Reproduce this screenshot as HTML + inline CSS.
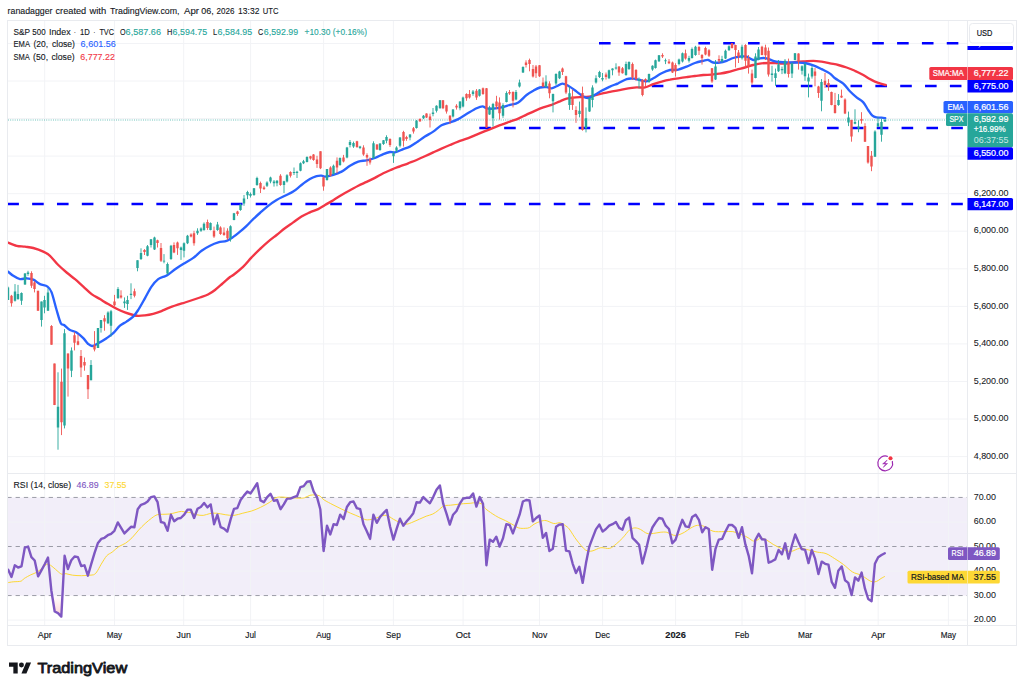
<!DOCTYPE html><html><head><meta charset="utf-8"><title>S&amp;P 500 Index chart</title><style>html,body{margin:0;padding:0;background:#fff;width:1024px;height:691px;overflow:hidden;font-family:"Liberation Sans",sans-serif}</style></head><body><svg width="1024" height="691" viewBox="0 0 1024 691" style="display:block">
<rect width="1024" height="691" fill="#fff"/>
<defs><clipPath id="cm"><rect x="8" y="21" width="959" height="452"/></clipPath><clipPath id="cr"><rect x="8" y="474" width="959" height="151"/></clipPath><clipPath id="c70"><rect x="8" y="474" width="959" height="23.45"/></clipPath><clipPath id="c30"><rect x="8" y="595.55" width="959" height="40"/></clipPath><linearGradient id="gg" gradientUnits="userSpaceOnUse" x1="0" y1="423.9" x2="0" y2="497.4"><stop offset="0" stop-color="#4caf50" stop-opacity="0.9"/><stop offset="1" stop-color="#4caf50" stop-opacity="0"/></linearGradient><linearGradient id="gr" gradientUnits="userSpaceOnUse" x1="0" y1="595.5" x2="0" y2="669.1"><stop offset="0" stop-color="#ff5252" stop-opacity="0"/><stop offset="1" stop-color="#ff5252" stop-opacity="0.9"/></linearGradient></defs>
<text x="7.6" y="14" font-family="Liberation Sans, sans-serif" font-size="9.7" fill="#131722" stroke="#131722" stroke-width="0.12" textLength="44.9" lengthAdjust="spacingAndGlyphs">ranadagger</text>
<text x="55.5" y="14" font-family="Liberation Sans, sans-serif" font-size="9.7" fill="#131722" stroke="#131722" stroke-width="0.12" textLength="30.7" lengthAdjust="spacingAndGlyphs">created</text>
<text x="89.5" y="14" font-family="Liberation Sans, sans-serif" font-size="9.7" fill="#131722" stroke="#131722" stroke-width="0.12" textLength="16.7" lengthAdjust="spacingAndGlyphs">with</text>
<text x="110" y="14" font-family="Liberation Sans, sans-serif" font-size="9.7" fill="#131722" stroke="#131722" stroke-width="0.12" textLength="69.5" lengthAdjust="spacingAndGlyphs">TradingView.com,</text>
<text x="184" y="14" font-family="Liberation Sans, sans-serif" font-size="9.7" fill="#131722" stroke="#131722" stroke-width="0.12" textLength="15.0" lengthAdjust="spacingAndGlyphs">Apr</text>
<text x="201.3" y="14" font-family="Liberation Sans, sans-serif" font-size="9.7" fill="#131722" stroke="#131722" stroke-width="0.12" textLength="12.5" lengthAdjust="spacingAndGlyphs">06,</text>
<text x="216.5" y="14" font-family="Liberation Sans, sans-serif" font-size="9.7" fill="#131722" stroke="#131722" stroke-width="0.12" textLength="17.9" lengthAdjust="spacingAndGlyphs">2026</text>
<text x="238.1" y="14" font-family="Liberation Sans, sans-serif" font-size="9.7" fill="#131722" stroke="#131722" stroke-width="0.12" textLength="21.3" lengthAdjust="spacingAndGlyphs">13:32</text>
<text x="262.8" y="14" font-family="Liberation Sans, sans-serif" font-size="9.7" fill="#131722" stroke="#131722" stroke-width="0.12" textLength="15.7" lengthAdjust="spacingAndGlyphs">UTC</text>
<rect x="8" y="497.45" width="959.5" height="98.10" fill="#7e57c2" fill-opacity="0.1"/>
<path d="M44.7 21V625 M114.5 21V625 M183.7 21V625 M250.6 21V625 M323.6 21V625 M393.4 21V625 M463.1 21V625 M539.5 21V625 M602.6 21V625 M675.6 21V625 M742.0 21V625 M805.1 21V625 M878.2 21V625 M948.4 21V625 M8 456.6H967 M8 419.0H967 M8 381.5H967 M8 343.9H967 M8 306.4H967 M8 268.8H967 M8 231.2H967 M8 193.7H967 M8 156.1H967 M8 118.6H967 M8 81.0H967 M8 43.5H967 M8 620.1H967 M8 571.0H967 M8 522.0H967" stroke="#f2f3f6" stroke-width="1" fill="none"/>
<rect x="7.5" y="20.5" width="1009.0" height="625.0" fill="none" stroke="#e9ebef" stroke-width="1"/>
<path d="M7.5 473.5H1016.5 M7.5 625.5H1016.5 M967.5 20.5V645.5" stroke="#e9ebef" stroke-width="1" fill="none"/>
<path d="M7.33 497.45H967" stroke="#787b86" stroke-opacity="0.72" stroke-width="1" stroke-dasharray="4.3 3.97" clip-path="url(#cr)"/>
<path d="M7.33 546.50H967" stroke="#787b86" stroke-opacity="0.72" stroke-width="1" stroke-dasharray="4.3 3.97" clip-path="url(#cr)"/>
<path d="M7.33 595.55H967" stroke="#787b86" stroke-opacity="0.72" stroke-width="1" stroke-dasharray="4.3 3.97" clip-path="url(#cr)"/>
<g clip-path="url(#cm)">
<path d="M599.0 43.2H967" stroke="#0000ff" stroke-width="2.5" stroke-dasharray="11.6 13.24" fill="none"/>
<path d="M651.8 86H967" stroke="#0000ff" stroke-width="2.5" stroke-dasharray="11.6 13.24" fill="none"/>
<path d="M479.3 128H967" stroke="#0000ff" stroke-width="2.5" stroke-dasharray="11.6 13.24" fill="none"/>
<path d="M7.3 204H967" stroke="#0000ff" stroke-width="2.5" stroke-dasharray="11.6 13.24" fill="none"/>
<path d="M8 120H967" stroke="#26a69a" stroke-width="1" stroke-dasharray="0.9 1.35" opacity="0.75"/>
<path d="M7.5 242.3C7.6 242.3 6.5 241.9 8.0 242.5C9.5 243.1 13.9 245.1 16.7 245.8C19.5 246.5 22.2 246.3 25.0 246.7C27.8 247.1 30.2 247.2 33.3 248.0C36.3 248.8 40.5 250.3 43.3 251.6C46.1 252.9 47.5 253.6 50.0 255.8C52.5 258.0 55.5 262.2 58.3 265.0C61.1 267.8 63.8 270.1 66.6 272.5C69.4 274.9 72.2 276.8 75.0 279.1C77.8 281.5 80.5 284.1 83.3 286.6C86.1 289.1 88.8 292.0 91.6 294.1C94.4 296.2 97.2 297.4 100.0 299.1C102.8 300.8 105.4 302.5 108.2 304.1C111.0 305.7 113.8 307.4 116.6 308.8C119.4 310.2 122.1 311.4 124.9 312.4C127.7 313.4 131.0 314.4 133.2 315.0C135.4 315.6 136.2 315.8 138.2 315.8C140.1 315.9 142.4 315.6 144.9 315.3C147.4 315.0 150.4 314.5 153.2 313.8C156.0 313.1 158.7 312.2 161.5 311.1C164.3 310.0 166.1 308.8 170.0 307.4C173.9 306.0 180.0 304.1 185.0 302.5C190.0 300.9 196.2 298.8 200.0 297.5C203.8 296.2 205.5 295.8 208.0 294.5C210.5 293.2 212.7 291.8 215.0 290.0C217.3 288.2 219.5 286.2 222.0 284.0C224.5 281.8 228.1 278.5 230.0 277.0C231.9 275.5 231.1 276.7 233.3 275.0C235.5 273.3 240.2 269.5 243.3 266.6C246.4 263.7 248.8 260.3 251.6 257.4C254.4 254.5 257.1 251.7 259.9 249.1C262.7 246.5 265.4 243.9 268.2 241.6C271.0 239.2 273.8 237.2 276.6 235.0C279.4 232.8 282.1 230.4 284.9 228.3C287.7 226.2 290.4 224.4 293.2 222.4C296.0 220.4 298.7 218.3 301.5 216.6C304.3 214.9 307.1 213.7 309.9 212.4C312.7 211.2 315.7 210.3 318.2 209.1C320.7 207.9 322.5 206.5 325.0 205.0C327.5 203.5 330.5 201.9 333.3 200.2C336.1 198.5 338.8 196.6 341.6 194.9C344.4 193.2 347.2 191.7 350.0 190.2C352.8 188.7 355.5 187.1 358.3 185.7C361.1 184.3 363.8 183.2 366.6 181.9C369.4 180.6 372.1 179.3 374.9 177.9C377.7 176.5 380.5 174.7 383.3 173.3C386.1 171.9 388.8 170.8 391.6 169.6C394.4 168.4 397.1 167.4 399.9 166.3C402.7 165.2 405.4 164.4 408.2 163.3C411.0 162.2 413.8 161.2 416.6 160.0C419.4 158.8 422.1 157.6 424.9 156.3C427.7 155.0 430.4 153.7 433.2 152.4C436.0 151.1 438.7 149.8 441.5 148.6C444.3 147.4 447.1 146.2 449.9 145.0C452.7 143.8 455.1 142.7 458.2 141.6C461.3 140.5 465.2 139.4 468.3 138.2C471.4 137.0 473.8 135.8 476.6 134.6C479.4 133.4 482.2 132.3 485.0 131.2C487.8 130.1 490.5 129.0 493.3 127.9C496.1 126.8 498.8 125.6 501.6 124.6C504.4 123.5 507.2 122.6 510.0 121.6C512.8 120.6 515.5 119.8 518.3 118.6C521.1 117.4 523.8 115.9 526.6 114.6C529.4 113.3 532.1 112.0 534.9 110.8C537.7 109.6 540.5 108.4 543.3 107.4C546.1 106.4 548.8 105.9 551.6 104.9C554.4 103.9 557.4 102.3 559.9 101.3C562.4 100.2 564.4 99.2 566.6 98.6C568.8 98.0 571.0 97.8 573.2 97.6C575.4 97.3 577.7 97.2 579.9 97.1C582.1 97.0 584.3 97.1 586.5 96.9C588.7 96.7 590.7 96.3 593.2 95.8C595.7 95.2 598.7 94.2 601.5 93.6C604.3 92.9 607.1 92.5 609.9 91.9C612.7 91.4 615.1 90.9 618.2 90.3C621.3 89.7 625.2 88.8 628.3 88.3C631.4 87.8 633.8 87.6 636.6 87.4C639.4 87.2 642.2 88.0 645.0 87.4C647.8 86.9 650.5 85.1 653.3 84.1C656.1 83.1 658.8 82.3 661.6 81.6C664.4 80.8 667.2 80.1 670.0 79.6C672.8 79.0 675.5 78.7 678.3 78.3C681.1 77.9 683.8 77.5 686.6 77.1C689.4 76.7 692.1 76.3 694.9 76.0C697.7 75.7 700.5 75.2 703.3 75.0C706.1 74.8 708.8 74.8 711.6 74.6C714.4 74.4 717.1 74.0 719.9 73.6C722.7 73.2 725.4 72.7 728.2 72.0C731.0 71.3 733.8 70.3 736.6 69.6C739.4 68.8 742.1 68.3 744.9 67.5C747.7 66.7 750.4 65.7 753.2 65.0C756.0 64.3 758.7 63.6 761.5 63.3C764.3 63.0 767.1 63.0 769.9 63.0C772.7 63.0 775.4 63.2 778.2 63.3C781.0 63.4 783.4 63.8 786.5 63.6C789.6 63.4 793.5 62.4 796.6 62.0C799.7 61.6 802.2 61.5 805.0 61.3C807.8 61.1 810.5 60.8 813.3 60.8C816.1 60.8 818.8 61.2 821.6 61.6C824.4 62.0 827.2 62.7 830.0 63.3C832.8 63.9 835.5 64.3 838.3 65.0C841.1 65.7 843.8 66.5 846.6 67.5C849.4 68.5 852.1 69.5 854.9 70.8C857.7 72.0 860.8 73.6 863.3 75.0C865.8 76.4 868.0 78.0 869.9 79.1C871.8 80.2 873.2 80.9 874.9 81.6C876.6 82.3 878.1 82.7 879.9 83.3C881.7 83.9 884.7 84.7 885.7 85.0" stroke="#f23645" stroke-width="2.35" fill="none" stroke-linejoin="round" stroke-linecap="round"/>
<path d="M7.5 271.3C7.6 271.4 7.0 270.9 8.0 271.6C9.0 272.4 11.3 274.6 13.3 275.8C15.3 277.1 17.8 278.7 20.0 279.1C22.2 279.5 24.4 278.2 26.6 278.3C28.8 278.4 31.1 278.6 33.3 279.6C35.5 280.6 37.6 282.9 40.0 284.1C42.4 285.3 45.6 285.2 47.5 286.6C49.4 288.0 50.1 288.5 51.6 292.4C53.1 296.3 55.1 304.9 56.6 310.0C58.1 315.1 59.5 320.7 60.8 323.2C62.0 325.7 62.6 323.9 64.1 325.0C65.6 326.1 67.9 328.8 70.0 330.0C72.1 331.2 74.4 331.0 76.6 332.4C78.8 333.8 81.4 336.3 83.3 338.2C85.2 340.1 86.7 342.7 88.2 344.0C89.7 345.3 90.5 346.1 92.2 346.0C93.9 345.9 95.8 344.5 98.2 343.2C100.6 341.9 104.1 339.9 106.6 338.2C109.1 336.5 111.0 335.3 113.2 333.2C115.4 331.1 117.8 327.6 120.0 325.7C122.2 323.8 124.3 323.1 126.5 321.6C128.7 320.1 131.2 318.5 133.2 316.6C135.1 314.7 136.2 313.1 138.2 310.0C140.1 306.9 142.7 302.2 144.9 298.3C147.1 294.4 149.3 289.8 151.5 286.6C153.7 283.4 156.0 280.8 158.2 279.1C160.4 277.4 163.2 277.0 164.8 276.3C166.4 275.6 165.5 276.4 167.5 275.0C169.5 273.6 173.7 270.2 176.6 268.2C179.5 266.2 182.2 264.6 185.0 262.9C187.8 261.2 190.5 259.9 193.3 257.9C196.1 255.9 198.8 252.7 201.6 250.7C204.4 248.7 207.2 247.1 210.0 245.7C212.8 244.3 215.5 243.2 218.3 242.4C221.1 241.6 224.1 241.7 226.6 240.8C229.1 239.9 231.1 238.4 233.3 236.9C235.5 235.4 237.8 233.4 240.0 231.6C242.2 229.8 244.4 227.9 246.6 225.8C248.8 223.7 251.0 221.2 253.2 219.1C255.4 217.0 257.4 215.2 259.9 213.0C262.4 210.8 265.4 208.0 268.2 205.8C271.0 203.6 273.8 201.7 276.6 200.0C279.4 198.3 282.1 197.2 284.9 195.8C287.7 194.4 290.4 193.4 293.2 191.6C296.0 189.8 298.7 187.1 301.5 185.0C304.3 182.9 307.4 180.6 309.9 179.1C312.4 177.6 314.7 176.8 316.6 176.2C318.6 175.6 320.2 175.6 321.6 175.7C323.0 175.8 323.1 176.7 325.0 176.6C326.9 176.5 330.5 175.7 333.3 174.9C336.1 174.1 338.8 173.1 341.6 171.6C344.4 170.1 347.2 167.5 350.0 165.8C352.8 164.1 355.5 162.5 358.3 161.6C361.1 160.7 363.8 160.9 366.6 160.3C369.4 159.7 372.1 159.0 374.9 158.0C377.7 157.0 380.8 155.1 383.3 154.1C385.8 153.1 388.0 152.3 389.9 152.0C391.8 151.7 392.7 152.9 394.9 152.4C397.1 151.9 400.7 150.1 403.2 149.1C405.7 148.1 407.7 147.7 409.9 146.6C412.1 145.5 414.1 144.1 416.6 142.4C419.1 140.7 422.1 138.4 424.9 136.6C427.7 134.8 430.4 133.5 433.2 131.6C436.0 129.7 438.7 126.8 441.5 125.3C444.3 123.8 447.1 123.5 449.9 122.5C452.7 121.5 455.4 120.5 458.2 119.1C461.0 117.7 463.4 115.9 466.5 114.1C469.6 112.3 473.9 109.6 476.6 108.3C479.3 107.0 480.8 106.3 482.5 106.3C484.2 106.3 484.8 107.9 486.6 108.3C488.4 108.7 490.8 108.8 493.3 108.6C495.8 108.4 498.8 108.0 501.6 107.4C504.4 106.8 507.2 105.7 510.0 104.9C512.8 104.1 515.5 104.1 518.3 102.4C521.1 100.8 524.1 96.9 526.6 95.0C529.1 93.1 531.1 92.0 533.3 90.8C535.5 89.5 537.7 88.1 539.9 87.5C542.1 86.9 544.6 87.0 546.6 87.1C548.6 87.2 549.9 88.4 551.6 88.3C553.3 88.2 554.8 87.1 556.6 86.3C558.4 85.5 560.5 83.7 562.4 83.6C564.3 83.5 565.8 84.5 568.2 85.8C570.6 87.1 574.1 89.8 576.6 91.6C579.1 93.4 581.3 95.5 583.2 96.6C585.1 97.7 586.5 98.1 588.2 98.0C589.9 97.9 591.0 97.0 593.2 95.8C595.4 94.6 598.7 92.3 601.5 90.8C604.3 89.3 607.1 87.8 609.9 86.6C612.7 85.3 615.4 84.5 618.2 83.3C621.0 82.0 624.2 79.9 626.7 79.1C629.2 78.3 631.1 78.4 633.3 78.6C635.5 78.8 637.8 79.5 640.0 80.0C642.2 80.5 644.4 81.6 646.6 81.3C648.8 81.0 650.8 79.6 653.3 78.3C655.8 77.0 658.8 74.7 661.6 73.3C664.4 71.9 667.2 70.6 670.0 70.0C672.8 69.4 675.5 70.2 678.3 69.6C681.1 69.0 683.8 67.7 686.6 66.6C689.4 65.5 692.1 64.0 694.9 63.0C697.7 62.0 701.1 61.3 703.3 60.8C705.5 60.3 706.6 59.7 708.2 60.0C709.9 60.3 711.2 62.1 713.2 62.5C715.2 62.9 717.7 62.8 719.9 62.5C722.1 62.2 724.4 61.5 726.6 60.8C728.8 60.0 731.0 58.7 733.2 58.0C735.4 57.3 737.7 56.8 739.9 56.6C742.1 56.4 744.3 56.0 746.5 56.6C748.7 57.2 751.0 59.7 753.2 60.0C755.4 60.3 757.7 58.6 759.9 58.3C762.1 58.0 764.3 57.9 766.5 58.3C768.7 58.7 771.0 60.2 773.2 60.8C775.4 61.4 777.3 61.7 779.8 62.0C782.3 62.3 785.5 62.4 788.3 62.5C791.1 62.6 793.8 62.4 796.6 62.5C799.4 62.6 802.2 62.5 805.0 63.0C807.8 63.5 810.5 64.3 813.3 65.3C816.1 66.3 818.8 67.7 821.6 69.1C824.4 70.5 827.8 72.1 830.0 73.6C832.2 75.1 832.8 76.6 835.0 78.3C837.2 80.0 840.8 81.4 843.3 83.6C845.8 85.8 847.7 89.0 849.9 91.3C852.1 93.6 854.4 95.6 856.6 97.4C858.8 99.2 861.4 100.3 863.3 102.4C865.2 104.5 866.7 107.8 868.2 110.0C869.7 112.2 871.0 114.5 872.4 115.7C873.8 116.9 875.1 117.1 876.6 117.4C878.1 117.7 880.2 117.6 881.6 117.7C883.0 117.8 884.6 118.1 885.2 118.2" stroke="#2962ff" stroke-width="2.35" fill="none" stroke-linejoin="round" stroke-linecap="round"/>
<path d="M8.00 286.6V299.9M15.00 284.1V301.6M18.00 284.9V299.9M21.50 292.4V304.9M25.00 273.0V284.9M28.00 270.8V275.8M41.50 301.6V326.6M44.50 295.8V313.3M48.00 288.3V310.8M58.00 372.3V449.7M64.50 329.1V428.4M71.50 347.4V377.1M91.00 360.1V380.2M98.00 328.1V348.0M101.00 320.0V332.6M108.00 311.3V324.1M111.00 309.9V336.6M118.00 287.1V298.6M124.50 297.4V307.9M127.50 295.8V309.9M131.00 283.3V299.1M137.50 260.3V271.3M141.00 248.3V260.0M147.50 245.0V256.3M151.00 239.2V247.5M154.50 236.7V250.0M164.00 254.1V263.3M167.50 262.5V274.6M171.00 244.9V259.9M181.00 246.6V259.9M184.00 242.4V257.4M187.50 234.9V244.1M197.50 228.3V234.9M201.00 227.4V231.9M204.00 222.4V230.8M210.50 222.4V230.3M217.50 221.9V230.8M230.50 225.3V241.6M234.00 212.9V220.3M240.50 203.6V210.8M244.00 195.0V205.8M247.50 190.8V199.1M250.50 192.5V197.5M254.00 188.0V195.8M257.00 176.7V185.8M267.00 181.3V187.0M270.50 176.7V183.3M274.00 180.0V186.6M277.00 180.0V186.3M284.00 180.8V193.0M287.00 174.2V182.5M294.00 167.5V175.0M297.00 170.8V178.0M300.50 162.4V171.3M303.50 159.9V164.1M307.00 156.3V162.4M327.00 169.1V180.7M333.50 164.6V174.9M340.00 157.4V165.8M347.00 146.9V158.3M350.00 140.0V147.4M353.50 141.6V147.9M360.00 145.8V149.1M373.50 141.3V158.6M380.00 143.3V150.8M383.50 140.0V144.9M386.50 135.3V143.3M393.50 151.6V162.9M396.50 146.3V152.4M400.00 137.0V147.4M410.00 134.1V140.3M416.50 120.0V128.6M423.50 115.0V119.1M433.00 108.0V116.3M436.50 105.3V112.5M440.00 100.0V108.6M453.00 109.1V117.5M460.00 101.3V110.3M463.00 96.6V107.4M473.00 90.0V95.8M479.50 89.1V96.6M489.50 105.8V114.9M493.00 102.9V126.6M503.00 103.3V117.9M506.50 91.3V102.4M516.00 90.0V100.3M519.50 79.6V87.5M523.00 66.3V73.0M546.00 75.3V87.5M553.00 93.6V112.4M556.00 73.3V85.0M559.50 70.8V79.1M569.50 86.6V109.9M579.50 101.6V117.4M586.00 107.4V132.4M589.50 97.4V111.9M592.50 85.3V107.4M596.00 75.3V83.6M599.50 70.8V78.0M602.50 73.0V81.3M609.00 69.6V79.1M612.50 68.3V75.3M616.00 63.3V69.6M626.00 61.6V75.8M629.00 61.3V70.0M639.00 77.5V88.3M649.00 73.6V82.9M652.50 65.3V70.8M655.50 59.6V68.6M659.00 55.0V62.0M665.50 58.6V64.1M679.00 58.6V65.3M682.50 52.5V62.5M689.00 55.8V62.5M692.00 47.5V58.6M695.50 45.8V55.8M715.50 60.0V80.0M722.00 55.8V62.5M725.50 49.6V59.1M729.00 45.3V50.8M742.00 44.7V59.6M755.50 53.3V78.3M758.50 47.0V60.3M772.00 65.8V81.6M775.50 68.6V85.8M778.50 60.0V72.0M782.00 66.6V74.1M785.00 59.1V74.1M792.00 62.5V78.0M795.00 53.0V60.3M802.00 65.3V74.6M805.00 62.5V80.8M808.50 73.6V97.4M812.00 65.8V78.6M821.50 79.1V111.3M838.50 94.1V105.8M848.50 111.6V126.1M855.00 109.3V124.3M858.50 120.3V132.2M875.00 130.3V156.7M878.00 116.8V127.2M881.50 118.5V141.7M885.00 119.5V121.8" stroke="#26a69a" stroke-width="0.9" fill="none"/>
<path d="M11.50 294.9V306.6M31.50 271.3V287.9M34.50 281.3V292.4M38.00 290.8V310.8M51.50 325.1V344.7M54.50 363.6V405.1M61.50 368.6V435.1M68.00 353.4V396.6M74.50 332.2V350.4M78.00 334.6V345.3M81.00 350.0V377.1M84.50 357.5V370.7M88.00 375.1V399.0M94.50 331.1V351.4M104.50 315.2V330.7M114.50 294.9V306.6M121.00 290.3V298.6M134.50 288.6V297.4M144.50 249.1V255.0M157.50 239.7V247.5M161.00 243.0V262.0M174.00 242.4V253.2M177.50 241.6V254.9M191.00 233.3V237.4M194.00 230.8V245.7M207.50 219.6V229.9M214.00 226.6V237.9M220.50 226.3V234.9M224.00 227.4V235.8M227.50 228.3V239.9M237.50 210.8V215.8M260.50 181.6V193.0M264.00 185.8V190.0M280.50 174.2V185.8M290.50 171.3V177.5M310.50 155.8V159.6M313.50 154.1V160.8M317.00 155.8V167.9M320.50 151.3V169.1M323.50 176.6V190.7M330.50 166.3V176.6M337.00 157.4V173.3M343.50 154.9V162.4M357.00 140.8V147.9M363.50 145.3V155.8M367.00 153.3V165.8M370.00 157.4V164.6M377.00 144.1V149.9M390.00 138.3V146.9M403.50 130.8V146.6M406.50 135.8V140.8M413.50 127.0V133.6M420.00 118.3V122.0M426.50 113.3V118.0M430.00 113.6V127.5M443.00 100.0V109.1M446.50 104.7V113.6M450.00 115.0V124.1M456.50 104.2V109.6M466.50 93.3V100.8M469.50 90.0V98.6M476.50 89.1V99.9M483.00 87.5V94.9M486.50 88.0V127.9M496.50 95.8V109.1M499.50 97.4V119.6M509.50 90.0V94.9M513.00 91.3V107.4M526.00 60.3V67.5M529.50 58.6V71.3M533.00 65.0V77.5M536.00 65.0V78.0M539.50 65.0V77.0M543.00 77.5V87.0M549.50 81.3V98.3M562.50 67.5V75.0M566.00 75.8V94.1M572.50 89.6V109.9M576.00 106.3V122.9M582.50 86.6V130.7M606.00 72.5V79.6M619.00 66.3V75.8M622.50 67.0V73.6M632.50 62.5V80.0M636.00 69.1V80.8M642.50 79.1V96.3M645.50 78.3V86.6M662.50 53.3V58.0M669.00 59.1V64.1M672.50 61.6V73.0M675.50 63.3V76.6M685.50 49.6V59.6M699.00 45.8V55.0M702.00 54.1V64.6M705.50 46.7V55.3M709.00 49.1V57.0M712.00 68.0V82.9M719.00 55.3V63.0M732.00 43.0V48.6M735.50 44.7V67.5M738.50 50.0V63.0M745.50 44.2V67.5M748.50 55.0V73.6M752.00 69.6V84.6M762.00 45.8V55.3M765.50 44.7V60.0M768.50 47.5V76.6M788.50 58.6V77.5M798.50 53.3V69.6M815.00 68.0V86.3M818.50 85.8V97.9M825.00 73.0V87.9M828.50 79.1V90.8M831.50 91.6V105.3M835.00 92.9V113.6M841.50 89.6V97.9M845.00 98.3V114.1M851.50 119.7V141.7M861.50 112.2V123.7M865.00 123.2V141.9M868.00 146.1V163.7M871.50 151.0V171.2" stroke="#ef5350" stroke-width="0.9" fill="none"/>
<path d="M6.80 287.4h2.4V299.9h-2.4zM13.80 291.6h2.4V300.8h-2.4zM16.80 294.1h2.4V299.1h-2.4zM20.30 292.9h2.4V300.8h-2.4zM23.80 273.6h2.4V284.6h-2.4zM26.80 272.5h2.4V274.1h-2.4zM40.30 301.6h2.4V319.9h-2.4zM43.30 299.9h2.4V307.4h-2.4zM46.80 292.4h2.4V310.8h-2.4zM56.80 406.7h2.4V427.4h-2.4zM63.30 333.2h2.4V425.4h-2.4zM70.30 350.4h2.4V370.7h-2.4zM89.80 365.0h2.4V380.2h-2.4zM96.80 328.1h2.4V348.0h-2.4zM99.80 320.0h2.4V328.1h-2.4zM106.80 312.4h2.4V323.2h-2.4zM109.80 311.3h2.4V325.7h-2.4zM116.80 289.1h2.4V298.3h-2.4zM123.30 301.6h2.4V303.3h-2.4zM126.30 299.9h2.4V304.1h-2.4zM129.80 293.8h2.4V294.9h-2.4zM136.30 260.3h2.4V268.0h-2.4zM139.80 253.0h2.4V259.1h-2.4zM146.30 246.3h2.4V255.8h-2.4zM149.80 239.2h2.4V245.0h-2.4zM153.30 237.5h2.4V249.6h-2.4zM162.80 260.8h2.4V261.6h-2.4zM166.30 264.1h2.4V273.6h-2.4zM169.80 245.7h2.4V259.1h-2.4zM179.80 247.4h2.4V249.9h-2.4zM182.80 243.3h2.4V250.7h-2.4zM186.30 235.8h2.4V243.3h-2.4zM196.30 230.8h2.4V233.3h-2.4zM199.80 228.6h2.4V230.8h-2.4zM202.80 223.8h2.4V229.9h-2.4zM209.30 222.9h2.4V229.9h-2.4zM216.30 224.6h2.4V229.9h-2.4zM229.30 226.3h2.4V238.3h-2.4zM232.80 213.3h2.4V219.9h-2.4zM239.30 204.6h2.4V210.0h-2.4zM242.80 198.6h2.4V203.6h-2.4zM246.30 192.0h2.4V195.3h-2.4zM249.30 194.1h2.4V195.8h-2.4zM252.80 188.3h2.4V195.0h-2.4zM255.80 178.0h2.4V185.0h-2.4zM265.80 182.5h2.4V185.8h-2.4zM269.30 177.5h2.4V181.6h-2.4zM272.80 181.6h2.4V183.3h-2.4zM275.80 180.8h2.4V183.3h-2.4zM282.80 181.3h2.4V185.0h-2.4zM285.80 175.3h2.4V181.6h-2.4zM292.80 172.0h2.4V173.0h-2.4zM295.80 171.7h2.4V173.0h-2.4zM299.30 163.3h2.4V170.8h-2.4zM302.30 161.3h2.4V163.3h-2.4zM305.80 156.9h2.4V161.9h-2.4zM325.80 169.1h2.4V179.9h-2.4zM332.30 165.8h2.4V174.1h-2.4zM338.80 157.9h2.4V164.9h-2.4zM345.80 147.4h2.4V157.4h-2.4zM348.80 141.9h2.4V144.9h-2.4zM352.30 142.9h2.4V146.6h-2.4zM358.80 146.6h2.4V147.9h-2.4zM372.30 143.3h2.4V158.3h-2.4zM378.80 143.6h2.4V149.9h-2.4zM382.30 140.3h2.4V144.1h-2.4zM385.30 137.0h2.4V140.8h-2.4zM392.30 153.3h2.4V156.3h-2.4zM395.30 147.4h2.4V150.8h-2.4zM398.80 137.5h2.4V145.8h-2.4zM408.80 134.6h2.4V137.5h-2.4zM415.30 120.8h2.4V128.0h-2.4zM422.30 115.8h2.4V118.3h-2.4zM431.80 112.5h2.4V114.1h-2.4zM435.30 105.8h2.4V110.8h-2.4zM438.80 100.3h2.4V108.3h-2.4zM451.80 109.6h2.4V116.6h-2.4zM458.80 101.6h2.4V108.3h-2.4zM461.80 97.4h2.4V106.6h-2.4zM471.80 91.6h2.4V94.1h-2.4zM478.30 89.6h2.4V95.8h-2.4zM488.30 107.4h2.4V114.6h-2.4zM491.80 104.1h2.4V118.3h-2.4zM501.80 104.9h2.4V115.8h-2.4zM505.30 92.9h2.4V101.9h-2.4zM514.80 91.9h2.4V99.6h-2.4zM518.30 82.5h2.4V86.6h-2.4zM521.80 67.0h2.4V72.5h-2.4zM544.80 81.6h2.4V87.0h-2.4zM551.80 94.1h2.4V101.3h-2.4zM554.80 74.1h2.4V83.6h-2.4zM558.30 71.6h2.4V78.3h-2.4zM568.30 93.3h2.4V104.9h-2.4zM578.30 110.8h2.4V114.1h-2.4zM584.80 118.3h2.4V128.2h-2.4zM588.30 97.9h2.4V111.6h-2.4zM591.30 87.5h2.4V99.9h-2.4zM594.80 78.3h2.4V82.5h-2.4zM598.30 72.0h2.4V77.0h-2.4zM601.30 78.0h2.4V79.6h-2.4zM607.80 70.3h2.4V78.3h-2.4zM611.30 68.6h2.4V70.3h-2.4zM614.80 67.5h2.4V68.6h-2.4zM624.80 64.1h2.4V75.0h-2.4zM627.80 62.0h2.4V69.1h-2.4zM637.80 79.1h2.4V80.8h-2.4zM647.80 74.1h2.4V81.9h-2.4zM651.30 65.8h2.4V69.6h-2.4zM654.30 60.3h2.4V68.0h-2.4zM657.80 55.3h2.4V61.3h-2.4zM664.30 60.3h2.4V61.3h-2.4zM677.80 59.6h2.4V64.1h-2.4zM681.30 53.3h2.4V61.6h-2.4zM687.80 58.0h2.4V60.8h-2.4zM690.80 49.1h2.4V58.0h-2.4zM694.30 46.7h2.4V55.0h-2.4zM714.30 66.6h2.4V79.6h-2.4zM720.80 59.1h2.4V61.6h-2.4zM724.30 50.8h2.4V58.6h-2.4zM727.80 46.3h2.4V50.3h-2.4zM740.80 46.7h2.4V58.3h-2.4zM754.30 56.6h2.4V78.0h-2.4zM757.30 49.6h2.4V60.0h-2.4zM770.80 73.6h2.4V75.0h-2.4zM774.30 73.3h2.4V78.0h-2.4zM777.30 64.6h2.4V71.3h-2.4zM780.80 69.1h2.4V70.3h-2.4zM783.80 60.8h2.4V73.3h-2.4zM790.80 63.3h2.4V73.6h-2.4zM793.80 53.3h2.4V60.0h-2.4zM800.80 66.3h2.4V70.8h-2.4zM803.80 64.1h2.4V76.3h-2.4zM807.30 77.5h2.4V81.6h-2.4zM810.80 68.0h2.4V76.6h-2.4zM820.30 81.9h2.4V100.8h-2.4zM837.30 99.9h2.4V104.9h-2.4zM847.30 117.4h2.4V122.6h-2.4zM853.80 122.0h2.4V123.7h-2.4zM857.30 126.4h2.4V128.4h-2.4zM873.80 131.5h2.4V156.7h-2.4zM876.80 123.2h2.4V126.6h-2.4zM880.30 122.0h2.4V134.7h-2.4zM883.80 119.7h2.4V121.4h-2.4z" fill="#26a69a"/>
<path d="M10.30 295.8h2.4V303.3h-2.4zM30.30 273.0h2.4V285.8h-2.4zM33.30 282.4h2.4V289.1h-2.4zM36.80 290.8h2.4V310.8h-2.4zM50.30 326.1h2.4V344.7h-2.4zM53.30 363.6h2.4V405.1h-2.4zM60.30 381.8h2.4V422.3h-2.4zM66.80 353.4h2.4V368.6h-2.4zM73.30 335.2h2.4V342.7h-2.4zM76.80 341.3h2.4V344.7h-2.4zM79.80 356.1h2.4V367.6h-2.4zM83.30 362.1h2.4V365.6h-2.4zM86.80 375.1h2.4V389.3h-2.4zM93.30 345.3h2.4V349.4h-2.4zM103.30 318.2h2.4V321.6h-2.4zM113.30 301.6h2.4V305.3h-2.4zM119.80 295.4h2.4V297.4h-2.4zM133.30 291.3h2.4V295.8h-2.4zM143.30 250.0h2.4V252.0h-2.4zM156.30 240.3h2.4V243.0h-2.4zM159.80 248.0h2.4V260.8h-2.4zM172.80 244.9h2.4V252.4h-2.4zM176.30 242.4h2.4V248.2h-2.4zM189.80 234.6h2.4V236.6h-2.4zM192.80 233.3h2.4V243.3h-2.4zM206.30 221.9h2.4V227.9h-2.4zM212.80 230.8h2.4V236.6h-2.4zM219.30 227.4h2.4V234.1h-2.4zM222.80 232.4h2.4V234.9h-2.4zM226.30 230.8h2.4V238.3h-2.4zM236.30 211.6h2.4V214.1h-2.4zM259.30 183.0h2.4V188.6h-2.4zM262.80 187.5h2.4V189.1h-2.4zM279.30 175.8h2.4V185.0h-2.4zM289.30 172.0h2.4V175.8h-2.4zM309.30 156.3h2.4V158.6h-2.4zM312.30 154.6h2.4V159.9h-2.4zM315.80 159.6h2.4V164.1h-2.4zM319.30 151.3h2.4V168.3h-2.4zM322.30 177.4h2.4V186.6h-2.4zM329.30 167.4h2.4V175.7h-2.4zM335.80 160.8h2.4V167.4h-2.4zM342.30 157.4h2.4V161.6h-2.4zM355.80 141.3h2.4V146.9h-2.4zM362.30 147.4h2.4V154.6h-2.4zM365.80 154.9h2.4V157.4h-2.4zM368.80 159.1h2.4V162.4h-2.4zM375.80 144.6h2.4V149.6h-2.4zM388.80 139.1h2.4V144.9h-2.4zM402.30 132.0h2.4V140.8h-2.4zM405.30 137.0h2.4V139.1h-2.4zM412.30 128.3h2.4V131.6h-2.4zM418.80 119.1h2.4V121.3h-2.4zM425.30 113.6h2.4V117.5h-2.4zM428.80 116.6h2.4V120.0h-2.4zM441.80 100.3h2.4V108.3h-2.4zM445.30 105.3h2.4V111.6h-2.4zM448.80 115.8h2.4V120.8h-2.4zM455.30 105.8h2.4V107.5h-2.4zM465.30 94.1h2.4V98.3h-2.4zM468.30 94.1h2.4V97.4h-2.4zM475.30 90.8h2.4V97.4h-2.4zM481.80 88.3h2.4V94.1h-2.4zM485.30 88.3h2.4V127.4h-2.4zM495.30 101.6h2.4V106.6h-2.4zM498.30 102.4h2.4V113.3h-2.4zM508.30 91.9h2.4V93.6h-2.4zM511.80 91.9h2.4V100.8h-2.4zM524.80 62.5h2.4V65.0h-2.4zM528.30 60.0h2.4V64.1h-2.4zM531.80 69.1h2.4V76.6h-2.4zM534.80 66.6h2.4V73.3h-2.4zM538.30 65.3h2.4V76.3h-2.4zM541.80 82.5h2.4V86.6h-2.4zM548.30 83.6h2.4V93.3h-2.4zM561.30 68.6h2.4V72.0h-2.4zM564.80 76.3h2.4V92.4h-2.4zM571.30 96.6h2.4V104.9h-2.4zM574.80 109.9h2.4V114.9h-2.4zM581.30 92.9h2.4V129.9h-2.4zM604.80 74.6h2.4V77.0h-2.4zM617.80 66.6h2.4V72.5h-2.4zM621.30 68.3h2.4V73.3h-2.4zM631.30 64.1h2.4V77.5h-2.4zM634.80 70.0h2.4V79.1h-2.4zM641.30 80.0h2.4V94.9h-2.4zM644.30 79.1h2.4V80.8h-2.4zM661.30 55.0h2.4V56.6h-2.4zM667.80 61.6h2.4V63.3h-2.4zM671.30 62.5h2.4V72.5h-2.4zM674.30 65.0h2.4V71.6h-2.4zM684.30 53.3h2.4V58.6h-2.4zM697.80 47.0h2.4V50.8h-2.4zM700.80 55.0h2.4V58.3h-2.4zM704.30 48.0h2.4V54.6h-2.4zM707.80 50.3h2.4V55.8h-2.4zM710.80 68.3h2.4V81.6h-2.4zM717.80 59.1h2.4V60.8h-2.4zM730.80 43.3h2.4V48.0h-2.4zM734.30 45.0h2.4V50.0h-2.4zM737.30 52.5h2.4V56.6h-2.4zM744.30 45.0h2.4V60.8h-2.4zM747.30 58.3h2.4V66.3h-2.4zM750.80 73.6h2.4V82.4h-2.4zM760.80 46.7h2.4V55.0h-2.4zM764.30 47.5h2.4V55.3h-2.4zM767.30 50.8h2.4V74.6h-2.4zM787.30 62.5h2.4V74.1h-2.4zM797.30 53.6h2.4V61.6h-2.4zM813.80 71.6h2.4V75.8h-2.4zM817.30 86.6h2.4V92.9h-2.4zM823.80 80.8h2.4V84.9h-2.4zM827.30 82.9h2.4V86.6h-2.4zM830.30 91.9h2.4V104.9h-2.4zM833.80 104.9h2.4V112.9h-2.4zM840.30 95.8h2.4V97.4h-2.4zM843.80 99.6h2.4V113.6h-2.4zM850.30 119.9h2.4V136.5h-2.4zM860.30 119.1h2.4V120.8h-2.4zM863.80 126.1h2.4V141.7h-2.4zM866.80 146.1h2.4V162.5h-2.4zM870.30 155.8h2.4V166.6h-2.4z" fill="#ef5350"/>
</g>
<path d="M8.2 569.7 L11.5 577.0 L14.8 565.3 L18.1 567.5 L21.5 566.4 L24.8 547.7 L28.1 546.6 L31.4 557.2 L34.7 560.5 L38.1 576.3 L41.4 570.4 L44.7 564.2 L48.0 557.6 L51.3 590.2 L54.7 611.5 L58.0 613.1 L61.3 616.6 L64.6 555.8 L67.9 569.0 L71.3 560.2 L74.6 556.5 L77.9 557.2 L81.2 566.0 L84.5 565.3 L87.9 575.7 L91.2 564.2 L94.5 553.2 L97.8 543.3 L101.2 538.9 L104.5 537.8 L107.8 535.2 L111.1 533.8 L114.4 530.8 L117.8 522.4 L121.1 527.9 L124.4 533.4 L127.7 530.1 L131.0 526.8 L134.4 527.2 L137.7 509.2 L141.0 504.8 L144.3 503.7 L147.6 501.5 L151.0 497.1 L154.3 496.4 L157.6 502.2 L160.9 522.0 L164.2 522.8 L167.6 530.8 L170.9 514.7 L174.2 521.3 L177.5 518.7 L180.8 518.0 L184.2 514.7 L187.5 509.6 L190.8 509.6 L194.1 518.0 L197.5 508.8 L200.8 507.0 L204.1 503.0 L207.4 507.4 L210.7 504.4 L214.1 524.2 L217.4 514.7 L220.7 527.2 L224.0 528.6 L227.3 531.6 L230.7 519.1 L234.0 508.8 L237.3 508.1 L240.6 500.0 L243.9 495.6 L247.3 491.6 L250.6 493.4 L253.9 488.3 L257.2 483.2 L260.5 500.4 L263.9 502.2 L267.2 497.1 L270.5 493.8 L273.8 500.8 L277.1 500.0 L280.5 509.2 L283.8 504.4 L287.1 498.6 L290.4 498.6 L293.8 497.1 L297.1 496.0 L300.4 487.2 L303.7 486.1 L307.0 481.7 L310.4 481.3 L313.7 491.6 L317.0 497.1 L320.3 509.2 L323.6 551.0 L327.0 525.7 L330.3 534.5 L333.6 524.2 L336.9 525.0 L340.2 514.7 L343.6 519.1 L346.9 507.0 L350.2 502.2 L353.5 501.5 L356.8 508.1 L360.2 509.2 L363.5 524.2 L366.8 531.2 L370.1 538.9 L373.4 514.7 L376.8 522.8 L380.1 516.9 L383.4 513.2 L386.7 509.9 L390.1 526.8 L393.4 539.6 L396.7 528.6 L400.0 518.7 L403.3 525.7 L406.7 521.3 L410.0 517.6 L413.3 513.2 L416.6 502.2 L419.9 502.6 L423.3 497.1 L426.6 500.4 L429.9 503.3 L433.2 497.1 L436.5 489.8 L439.9 485.4 L443.2 503.7 L446.5 513.6 L449.8 524.6 L453.1 514.7 L456.5 511.0 L459.8 503.7 L463.1 498.6 L466.4 497.8 L469.7 497.8 L473.1 493.4 L476.4 506.6 L479.7 497.1 L483.0 503.7 L486.4 565.3 L489.7 539.6 L493.0 541.8 L496.3 536.7 L499.6 546.6 L503.0 538.2 L506.3 524.2 L509.6 525.0 L512.9 533.4 L516.2 524.2 L519.6 514.7 L522.9 501.5 L526.2 500.0 L529.5 500.4 L532.8 521.3 L536.2 518.0 L539.5 515.4 L542.8 537.8 L546.1 533.0 L549.4 551.0 L552.8 548.8 L556.1 526.8 L559.4 524.6 L562.7 524.2 L566.0 550.6 L569.4 551.4 L572.7 563.8 L576.0 573.0 L579.3 566.8 L582.7 582.9 L586.0 563.1 L589.3 546.6 L592.6 537.8 L595.9 529.4 L599.3 524.6 L602.6 531.6 L605.9 529.0 L609.2 525.7 L612.5 524.2 L615.9 522.0 L619.2 527.9 L622.5 529.7 L625.8 520.2 L629.1 517.6 L632.5 537.8 L635.8 541.1 L639.1 544.8 L642.4 563.5 L645.7 551.0 L649.1 536.7 L652.4 527.5 L655.7 522.4 L659.0 518.0 L662.4 518.7 L665.7 525.7 L669.0 529.0 L672.3 543.3 L675.6 539.6 L679.0 529.0 L682.3 519.8 L685.6 526.4 L688.9 527.2 L692.2 516.9 L695.6 514.7 L698.9 519.8 L702.2 532.3 L705.5 527.2 L708.8 529.0 L712.2 569.7 L715.5 548.8 L718.8 539.6 L722.1 538.9 L725.4 531.6 L728.8 525.0 L732.1 525.0 L735.4 527.9 L738.7 537.8 L742.0 527.2 L745.4 544.4 L748.7 555.8 L752.0 573.4 L755.3 540.0 L758.7 533.8 L762.0 539.3 L765.3 539.6 L768.6 562.7 L771.9 561.3 L775.3 559.4 L778.6 549.9 L781.9 554.3 L785.2 543.3 L788.5 558.7 L791.9 545.5 L795.2 534.5 L798.5 542.2 L801.8 549.2 L805.1 549.9 L808.5 563.1 L811.8 549.9 L815.1 558.7 L818.4 574.1 L821.7 561.6 L825.1 563.8 L828.4 564.6 L831.7 581.8 L835.0 587.8 L838.3 570.8 L841.7 566.4 L845.0 580.3 L848.3 582.9 L851.6 595.0 L855.0 577.4 L858.3 580.7 L861.6 572.6 L864.9 588.4 L868.2 599.0 L871.6 601.2 L874.9 563.8 L878.2 557.2 L881.5 555.0 L884.8 553.2 L884.8 497.4 L8.2 497.4Z" fill="url(#gg)" clip-path="url(#c70)"/>
<path d="M8.2 569.7 L11.5 577.0 L14.8 565.3 L18.1 567.5 L21.5 566.4 L24.8 547.7 L28.1 546.6 L31.4 557.2 L34.7 560.5 L38.1 576.3 L41.4 570.4 L44.7 564.2 L48.0 557.6 L51.3 590.2 L54.7 611.5 L58.0 613.1 L61.3 616.6 L64.6 555.8 L67.9 569.0 L71.3 560.2 L74.6 556.5 L77.9 557.2 L81.2 566.0 L84.5 565.3 L87.9 575.7 L91.2 564.2 L94.5 553.2 L97.8 543.3 L101.2 538.9 L104.5 537.8 L107.8 535.2 L111.1 533.8 L114.4 530.8 L117.8 522.4 L121.1 527.9 L124.4 533.4 L127.7 530.1 L131.0 526.8 L134.4 527.2 L137.7 509.2 L141.0 504.8 L144.3 503.7 L147.6 501.5 L151.0 497.1 L154.3 496.4 L157.6 502.2 L160.9 522.0 L164.2 522.8 L167.6 530.8 L170.9 514.7 L174.2 521.3 L177.5 518.7 L180.8 518.0 L184.2 514.7 L187.5 509.6 L190.8 509.6 L194.1 518.0 L197.5 508.8 L200.8 507.0 L204.1 503.0 L207.4 507.4 L210.7 504.4 L214.1 524.2 L217.4 514.7 L220.7 527.2 L224.0 528.6 L227.3 531.6 L230.7 519.1 L234.0 508.8 L237.3 508.1 L240.6 500.0 L243.9 495.6 L247.3 491.6 L250.6 493.4 L253.9 488.3 L257.2 483.2 L260.5 500.4 L263.9 502.2 L267.2 497.1 L270.5 493.8 L273.8 500.8 L277.1 500.0 L280.5 509.2 L283.8 504.4 L287.1 498.6 L290.4 498.6 L293.8 497.1 L297.1 496.0 L300.4 487.2 L303.7 486.1 L307.0 481.7 L310.4 481.3 L313.7 491.6 L317.0 497.1 L320.3 509.2 L323.6 551.0 L327.0 525.7 L330.3 534.5 L333.6 524.2 L336.9 525.0 L340.2 514.7 L343.6 519.1 L346.9 507.0 L350.2 502.2 L353.5 501.5 L356.8 508.1 L360.2 509.2 L363.5 524.2 L366.8 531.2 L370.1 538.9 L373.4 514.7 L376.8 522.8 L380.1 516.9 L383.4 513.2 L386.7 509.9 L390.1 526.8 L393.4 539.6 L396.7 528.6 L400.0 518.7 L403.3 525.7 L406.7 521.3 L410.0 517.6 L413.3 513.2 L416.6 502.2 L419.9 502.6 L423.3 497.1 L426.6 500.4 L429.9 503.3 L433.2 497.1 L436.5 489.8 L439.9 485.4 L443.2 503.7 L446.5 513.6 L449.8 524.6 L453.1 514.7 L456.5 511.0 L459.8 503.7 L463.1 498.6 L466.4 497.8 L469.7 497.8 L473.1 493.4 L476.4 506.6 L479.7 497.1 L483.0 503.7 L486.4 565.3 L489.7 539.6 L493.0 541.8 L496.3 536.7 L499.6 546.6 L503.0 538.2 L506.3 524.2 L509.6 525.0 L512.9 533.4 L516.2 524.2 L519.6 514.7 L522.9 501.5 L526.2 500.0 L529.5 500.4 L532.8 521.3 L536.2 518.0 L539.5 515.4 L542.8 537.8 L546.1 533.0 L549.4 551.0 L552.8 548.8 L556.1 526.8 L559.4 524.6 L562.7 524.2 L566.0 550.6 L569.4 551.4 L572.7 563.8 L576.0 573.0 L579.3 566.8 L582.7 582.9 L586.0 563.1 L589.3 546.6 L592.6 537.8 L595.9 529.4 L599.3 524.6 L602.6 531.6 L605.9 529.0 L609.2 525.7 L612.5 524.2 L615.9 522.0 L619.2 527.9 L622.5 529.7 L625.8 520.2 L629.1 517.6 L632.5 537.8 L635.8 541.1 L639.1 544.8 L642.4 563.5 L645.7 551.0 L649.1 536.7 L652.4 527.5 L655.7 522.4 L659.0 518.0 L662.4 518.7 L665.7 525.7 L669.0 529.0 L672.3 543.3 L675.6 539.6 L679.0 529.0 L682.3 519.8 L685.6 526.4 L688.9 527.2 L692.2 516.9 L695.6 514.7 L698.9 519.8 L702.2 532.3 L705.5 527.2 L708.8 529.0 L712.2 569.7 L715.5 548.8 L718.8 539.6 L722.1 538.9 L725.4 531.6 L728.8 525.0 L732.1 525.0 L735.4 527.9 L738.7 537.8 L742.0 527.2 L745.4 544.4 L748.7 555.8 L752.0 573.4 L755.3 540.0 L758.7 533.8 L762.0 539.3 L765.3 539.6 L768.6 562.7 L771.9 561.3 L775.3 559.4 L778.6 549.9 L781.9 554.3 L785.2 543.3 L788.5 558.7 L791.9 545.5 L795.2 534.5 L798.5 542.2 L801.8 549.2 L805.1 549.9 L808.5 563.1 L811.8 549.9 L815.1 558.7 L818.4 574.1 L821.7 561.6 L825.1 563.8 L828.4 564.6 L831.7 581.8 L835.0 587.8 L838.3 570.8 L841.7 566.4 L845.0 580.3 L848.3 582.9 L851.6 595.0 L855.0 577.4 L858.3 580.7 L861.6 572.6 L864.9 588.4 L868.2 599.0 L871.6 601.2 L874.9 563.8 L878.2 557.2 L881.5 555.0 L884.8 553.2 L884.8 595.5 L8.2 595.5Z" fill="url(#gr)" clip-path="url(#c30)"/>
<g clip-path="url(#cr)">
<path d="M7.7 582.7C8.6 582.5 11.0 582.1 13.2 581.8C15.4 581.6 19.1 581.7 20.9 581.2C22.7 580.6 22.6 579.6 24.2 578.5C25.9 577.4 28.6 575.9 30.8 574.8C33.0 573.7 35.2 573.3 37.4 571.9C39.6 570.5 42.4 567.7 44.0 566.4C45.7 565.1 46.2 564.4 47.3 564.2C48.4 564.0 49.0 564.2 50.6 565.3C52.3 566.4 55.4 569.3 57.2 570.8C59.0 572.3 60.1 573.6 61.6 574.1C63.1 574.6 64.2 573.5 66.0 573.7C67.8 573.9 70.0 574.9 72.6 575.2C75.2 575.5 78.8 575.7 81.4 575.7C84.0 575.7 86.0 575.4 88.0 575.2C90.0 575.1 92.0 575.3 93.5 574.8C95.0 574.2 95.5 573.7 96.8 571.9C98.1 570.1 99.6 566.9 101.2 564.2C102.9 561.5 104.9 557.9 106.7 555.8C108.5 553.8 110.2 553.6 112.2 552.1C114.2 550.6 116.6 548.1 118.8 546.6C121.0 545.1 123.2 544.8 125.4 543.3C127.6 541.8 129.8 540.0 132.0 537.8C134.2 535.6 136.4 532.5 138.6 530.1C140.8 527.7 143.0 525.5 145.2 523.5C147.4 521.5 149.8 519.5 151.8 518.0C153.8 516.5 155.5 515.3 157.3 514.7C159.1 514.1 160.8 514.4 162.8 514.3C164.8 514.2 167.2 514.3 169.4 514.0C171.6 513.8 174.0 512.9 176.0 512.5C178.0 512.1 179.7 511.4 181.5 511.4C183.4 511.4 185.6 512.3 187.0 512.5C188.4 512.7 188.4 512.1 190.0 512.5C191.6 512.9 194.4 514.2 196.6 514.7C198.8 515.2 201.0 515.5 203.2 515.4C205.4 515.2 207.6 514.0 209.8 513.6C212.0 513.2 213.8 513.0 216.4 513.2C219.0 513.3 222.3 514.3 225.2 514.7C228.1 515.1 231.1 515.6 234.0 515.4C236.9 515.1 239.9 513.9 242.8 513.2C245.7 512.4 248.7 511.9 251.6 511.0C254.5 510.0 257.5 508.8 260.4 507.4C263.3 506.0 266.6 504.2 269.2 502.6C271.8 501.0 273.6 498.7 275.8 497.8C278.0 496.8 279.8 497.1 282.4 497.1C285.0 497.1 288.3 497.6 291.2 497.8C294.1 497.9 297.8 498.2 300.0 498.2C302.2 498.2 302.8 498.2 304.4 497.8C306.1 497.3 308.1 495.8 309.9 495.3C311.7 494.9 313.8 494.8 315.4 494.9C317.1 495.0 318.3 495.2 319.8 496.0C321.3 496.8 322.0 498.5 324.2 500.0C326.4 501.4 330.1 503.3 333.0 504.8C335.9 506.3 338.9 507.8 341.8 509.2C344.7 510.6 347.7 511.9 350.6 513.2C353.5 514.4 356.9 515.8 359.4 516.9C362.0 518.0 363.8 519.4 366.0 519.8C368.2 520.1 370.4 519.6 372.6 519.1C374.8 518.6 378.0 517.4 379.2 516.9C380.4 516.4 378.8 516.5 380.0 516.2C381.2 516.0 384.4 514.9 386.6 515.4C388.8 515.8 391.0 517.9 393.2 519.1C395.4 520.3 397.6 521.6 399.8 522.4C402.0 523.2 404.2 524.2 406.4 524.2C408.6 524.1 410.8 522.8 413.0 522.0C415.2 521.1 417.4 520.1 419.6 519.1C421.8 518.2 424.0 517.1 426.2 516.2C428.4 515.4 430.8 515.0 432.8 514.0C434.8 513.1 436.5 511.7 438.3 510.3C440.1 508.9 441.8 506.7 443.8 505.9C445.8 505.1 448.2 505.5 450.4 505.2C452.6 505.0 454.8 504.6 457.0 504.4C459.2 504.1 461.4 503.9 463.6 503.7C465.8 503.5 468.0 503.4 470.2 503.3C472.4 503.1 474.8 502.4 476.8 502.6C478.8 502.8 480.8 503.3 482.3 504.4C483.8 505.4 484.0 507.2 485.6 508.8C487.3 510.3 490.0 512.1 492.2 513.6C494.4 515.1 496.6 516.4 498.8 517.6C501.0 518.7 503.2 519.5 505.4 520.6C507.6 521.7 509.8 523.0 512.0 524.2C514.2 525.4 516.4 527.2 518.6 527.9C520.8 528.6 523.4 528.4 525.2 528.3C527.0 528.3 528.1 528.2 529.6 527.5C531.1 526.8 532.2 525.2 534.0 524.2C535.8 523.1 538.6 521.9 540.6 521.3C542.6 520.7 543.9 520.3 546.1 520.6C548.3 521.0 551.4 523.1 553.8 523.5C556.2 523.9 558.2 522.3 560.4 522.8C562.6 523.4 565.4 525.6 567.0 526.8C568.6 528.0 568.4 527.9 570.0 530.1C571.6 532.3 574.0 536.7 576.6 540.0C579.2 543.3 582.8 548.1 585.4 549.9C588.0 551.7 589.4 551.4 592.0 551.0C594.6 550.6 597.9 548.1 600.8 547.7C603.7 547.3 607.0 549.0 609.6 548.4C612.2 547.7 614.0 545.7 616.2 544.0C618.4 542.2 620.6 540.1 622.8 537.8C625.0 535.5 627.4 531.8 629.4 530.1C631.4 528.5 633.1 528.0 634.9 527.9C636.7 527.8 638.4 528.5 640.4 529.4C642.4 530.4 644.8 532.7 647.0 533.4C649.2 534.1 651.4 533.6 653.6 533.4C655.8 533.2 658.0 532.5 660.2 532.3C662.4 532.1 664.6 531.8 666.8 532.3C669.0 532.8 671.6 534.7 673.4 535.2C675.2 535.6 676.0 535.6 677.8 535.2C679.6 534.7 682.2 533.5 684.4 532.3C686.6 531.1 688.8 529.1 691.0 527.9C693.2 526.7 695.4 525.5 697.6 525.3C699.8 525.0 701.6 525.4 704.2 526.4C706.8 527.4 709.7 530.3 713.0 531.2C716.3 532.1 720.7 531.6 724.0 531.6C727.3 531.7 729.9 531.2 732.8 531.6C735.7 532.1 739.1 533.5 741.6 534.5C744.2 535.5 746.2 536.7 748.2 537.8C750.2 538.9 751.9 540.9 753.7 541.1C755.6 541.3 758.2 539.5 759.2 538.9C760.3 538.4 758.8 537.6 760.0 537.8C761.2 538.0 764.4 538.9 766.6 540.0C768.8 541.1 770.6 542.9 773.2 544.4C775.8 545.9 779.1 547.6 782.0 548.8C784.9 550.0 787.9 551.5 790.8 551.4C793.7 551.4 796.7 548.6 799.6 548.4C802.5 548.1 805.5 549.3 808.4 549.9C811.3 550.5 814.3 551.5 817.2 552.1C820.1 552.7 823.1 552.5 826.0 553.6C828.9 554.7 831.9 556.9 834.8 558.7C837.7 560.5 840.7 562.4 843.6 564.6C846.5 566.8 849.5 570.1 852.4 571.9C855.3 573.7 858.6 573.9 861.2 575.2C863.8 576.5 866.0 578.5 867.8 579.6C869.6 580.7 870.7 581.5 872.2 581.8C873.7 582.1 875.1 581.9 876.6 581.4C878.1 580.8 879.6 579.4 881.0 578.5C882.4 577.7 884.3 576.7 885.0 576.3" stroke="#fdd835" stroke-width="1" fill="none" stroke-linejoin="round"/>
<path d="M8.2 569.7 L11.5 577.0 L14.8 565.3 L18.1 567.5 L21.5 566.4 L24.8 547.7 L28.1 546.6 L31.4 557.2 L34.7 560.5 L38.1 576.3 L41.4 570.4 L44.7 564.2 L48.0 557.6 L51.3 590.2 L54.7 611.5 L58.0 613.1 L61.3 616.6 L64.6 555.8 L67.9 569.0 L71.3 560.2 L74.6 556.5 L77.9 557.2 L81.2 566.0 L84.5 565.3 L87.9 575.7 L91.2 564.2 L94.5 553.2 L97.8 543.3 L101.2 538.9 L104.5 537.8 L107.8 535.2 L111.1 533.8 L114.4 530.8 L117.8 522.4 L121.1 527.9 L124.4 533.4 L127.7 530.1 L131.0 526.8 L134.4 527.2 L137.7 509.2 L141.0 504.8 L144.3 503.7 L147.6 501.5 L151.0 497.1 L154.3 496.4 L157.6 502.2 L160.9 522.0 L164.2 522.8 L167.6 530.8 L170.9 514.7 L174.2 521.3 L177.5 518.7 L180.8 518.0 L184.2 514.7 L187.5 509.6 L190.8 509.6 L194.1 518.0 L197.5 508.8 L200.8 507.0 L204.1 503.0 L207.4 507.4 L210.7 504.4 L214.1 524.2 L217.4 514.7 L220.7 527.2 L224.0 528.6 L227.3 531.6 L230.7 519.1 L234.0 508.8 L237.3 508.1 L240.6 500.0 L243.9 495.6 L247.3 491.6 L250.6 493.4 L253.9 488.3 L257.2 483.2 L260.5 500.4 L263.9 502.2 L267.2 497.1 L270.5 493.8 L273.8 500.8 L277.1 500.0 L280.5 509.2 L283.8 504.4 L287.1 498.6 L290.4 498.6 L293.8 497.1 L297.1 496.0 L300.4 487.2 L303.7 486.1 L307.0 481.7 L310.4 481.3 L313.7 491.6 L317.0 497.1 L320.3 509.2 L323.6 551.0 L327.0 525.7 L330.3 534.5 L333.6 524.2 L336.9 525.0 L340.2 514.7 L343.6 519.1 L346.9 507.0 L350.2 502.2 L353.5 501.5 L356.8 508.1 L360.2 509.2 L363.5 524.2 L366.8 531.2 L370.1 538.9 L373.4 514.7 L376.8 522.8 L380.1 516.9 L383.4 513.2 L386.7 509.9 L390.1 526.8 L393.4 539.6 L396.7 528.6 L400.0 518.7 L403.3 525.7 L406.7 521.3 L410.0 517.6 L413.3 513.2 L416.6 502.2 L419.9 502.6 L423.3 497.1 L426.6 500.4 L429.9 503.3 L433.2 497.1 L436.5 489.8 L439.9 485.4 L443.2 503.7 L446.5 513.6 L449.8 524.6 L453.1 514.7 L456.5 511.0 L459.8 503.7 L463.1 498.6 L466.4 497.8 L469.7 497.8 L473.1 493.4 L476.4 506.6 L479.7 497.1 L483.0 503.7 L486.4 565.3 L489.7 539.6 L493.0 541.8 L496.3 536.7 L499.6 546.6 L503.0 538.2 L506.3 524.2 L509.6 525.0 L512.9 533.4 L516.2 524.2 L519.6 514.7 L522.9 501.5 L526.2 500.0 L529.5 500.4 L532.8 521.3 L536.2 518.0 L539.5 515.4 L542.8 537.8 L546.1 533.0 L549.4 551.0 L552.8 548.8 L556.1 526.8 L559.4 524.6 L562.7 524.2 L566.0 550.6 L569.4 551.4 L572.7 563.8 L576.0 573.0 L579.3 566.8 L582.7 582.9 L586.0 563.1 L589.3 546.6 L592.6 537.8 L595.9 529.4 L599.3 524.6 L602.6 531.6 L605.9 529.0 L609.2 525.7 L612.5 524.2 L615.9 522.0 L619.2 527.9 L622.5 529.7 L625.8 520.2 L629.1 517.6 L632.5 537.8 L635.8 541.1 L639.1 544.8 L642.4 563.5 L645.7 551.0 L649.1 536.7 L652.4 527.5 L655.7 522.4 L659.0 518.0 L662.4 518.7 L665.7 525.7 L669.0 529.0 L672.3 543.3 L675.6 539.6 L679.0 529.0 L682.3 519.8 L685.6 526.4 L688.9 527.2 L692.2 516.9 L695.6 514.7 L698.9 519.8 L702.2 532.3 L705.5 527.2 L708.8 529.0 L712.2 569.7 L715.5 548.8 L718.8 539.6 L722.1 538.9 L725.4 531.6 L728.8 525.0 L732.1 525.0 L735.4 527.9 L738.7 537.8 L742.0 527.2 L745.4 544.4 L748.7 555.8 L752.0 573.4 L755.3 540.0 L758.7 533.8 L762.0 539.3 L765.3 539.6 L768.6 562.7 L771.9 561.3 L775.3 559.4 L778.6 549.9 L781.9 554.3 L785.2 543.3 L788.5 558.7 L791.9 545.5 L795.2 534.5 L798.5 542.2 L801.8 549.2 L805.1 549.9 L808.5 563.1 L811.8 549.9 L815.1 558.7 L818.4 574.1 L821.7 561.6 L825.1 563.8 L828.4 564.6 L831.7 581.8 L835.0 587.8 L838.3 570.8 L841.7 566.4 L845.0 580.3 L848.3 582.9 L851.6 595.0 L855.0 577.4 L858.3 580.7 L861.6 572.6 L864.9 588.4 L868.2 599.0 L871.6 601.2 L874.9 563.8 L878.2 557.2 L881.5 555.0 L884.8 553.2" stroke="#7e57c2" stroke-width="2.4" fill="none" stroke-linejoin="round" stroke-linecap="round"/>
</g>
<text x="973.7" y="195.8" font-family="Liberation Sans, sans-serif" font-size="9.7" fill="#131722" stroke="#131722" stroke-width="0.06" textLength="34.8" lengthAdjust="spacingAndGlyphs">6,200.00</text>
<text x="973.7" y="233.3" font-family="Liberation Sans, sans-serif" font-size="9.7" fill="#131722" stroke="#131722" stroke-width="0.06" textLength="34.8" lengthAdjust="spacingAndGlyphs">6,000.00</text>
<text x="973.7" y="270.9" font-family="Liberation Sans, sans-serif" font-size="9.7" fill="#131722" stroke="#131722" stroke-width="0.06" textLength="34.8" lengthAdjust="spacingAndGlyphs">5,800.00</text>
<text x="973.7" y="308.5" font-family="Liberation Sans, sans-serif" font-size="9.7" fill="#131722" stroke="#131722" stroke-width="0.06" textLength="34.8" lengthAdjust="spacingAndGlyphs">5,600.00</text>
<text x="973.7" y="346.0" font-family="Liberation Sans, sans-serif" font-size="9.7" fill="#131722" stroke="#131722" stroke-width="0.06" textLength="34.8" lengthAdjust="spacingAndGlyphs">5,400.00</text>
<text x="973.7" y="383.6" font-family="Liberation Sans, sans-serif" font-size="9.7" fill="#131722" stroke="#131722" stroke-width="0.06" textLength="34.8" lengthAdjust="spacingAndGlyphs">5,200.00</text>
<text x="973.7" y="421.1" font-family="Liberation Sans, sans-serif" font-size="9.7" fill="#131722" stroke="#131722" stroke-width="0.06" textLength="34.8" lengthAdjust="spacingAndGlyphs">5,000.00</text>
<text x="973.7" y="458.7" font-family="Liberation Sans, sans-serif" font-size="9.7" fill="#131722" stroke="#131722" stroke-width="0.06" textLength="34.8" lengthAdjust="spacingAndGlyphs">4,800.00</text>
<text x="973.7" y="499.6" font-family="Liberation Sans, sans-serif" font-size="9.7" fill="#131722" stroke="#131722" stroke-width="0.06" textLength="22.3" lengthAdjust="spacingAndGlyphs">70.00</text>
<text x="973.7" y="524.2" font-family="Liberation Sans, sans-serif" font-size="9.7" fill="#131722" stroke="#131722" stroke-width="0.06" textLength="22.3" lengthAdjust="spacingAndGlyphs">60.00</text>
<text x="973.7" y="548.7" font-family="Liberation Sans, sans-serif" font-size="9.7" fill="#131722" stroke="#131722" stroke-width="0.06" textLength="22.3" lengthAdjust="spacingAndGlyphs">50.00</text>
<text x="973.7" y="573.2" font-family="Liberation Sans, sans-serif" font-size="9.7" fill="#131722" stroke="#131722" stroke-width="0.06" textLength="22.3" lengthAdjust="spacingAndGlyphs">40.00</text>
<text x="973.7" y="597.8" font-family="Liberation Sans, sans-serif" font-size="9.7" fill="#131722" stroke="#131722" stroke-width="0.06" textLength="22.3" lengthAdjust="spacingAndGlyphs">30.00</text>
<text x="973.7" y="622.3" font-family="Liberation Sans, sans-serif" font-size="9.7" fill="#131722" stroke="#131722" stroke-width="0.06" textLength="22.3" lengthAdjust="spacingAndGlyphs">20.00</text>
<path d="M967.5 46H1012A1 1 0 0 1 1013 47V49A1 1 0 0 1 1012 50H967.5Z" fill="#0000ff"/>
<path d="M979 47.5l1.2-1.5" stroke="#fff" stroke-width="0.8"/>
<rect x="969.5" y="23.5" width="44" height="19.5" rx="3" fill="#fff" stroke="#e9ebef" stroke-width="1"/>
<text x="976.7" y="36.0" font-family="Liberation Sans, sans-serif" font-size="9" fill="#131722" stroke="#131722" stroke-width="0.22" textLength="15.6" lengthAdjust="spacingAndGlyphs">USD</text>
<rect x="929.3" y="67" width="39.200000000000045" height="13" rx="1.6" fill="#f23645"/>
<path d="M967.5 67H1011.4A1.6 1.6 0 0 1 1013 68.6V78.4A1.6 1.6 0 0 1 1011.4 80H967.5Z" fill="#f23645"/>
<text x="932.8" y="76.0" font-family="Liberation Sans, sans-serif" font-size="9.7" fill="#fff" stroke="#fff" stroke-width="0.22" textLength="31" lengthAdjust="spacingAndGlyphs">SMA:MA</text>
<text x="973.7" y="76.0" font-family="Liberation Sans, sans-serif" font-size="9.7" fill="#fff" stroke="#fff" stroke-width="0.22" textLength="34.8" lengthAdjust="spacingAndGlyphs">6,777.22</text>
<path d="M967.5 80H1011.4A1.6 1.6 0 0 1 1013 81.6V90.9A1.6 1.6 0 0 1 1011.4 92.5H967.5Z" fill="#0000ff"/>
<text x="973.7" y="89.0" font-family="Liberation Sans, sans-serif" font-size="9.7" fill="#fff" stroke="#fff" stroke-width="0.22" textLength="34.8" lengthAdjust="spacingAndGlyphs">6,775.00</text>
<rect x="943.5" y="101" width="25.0" height="12.299999999999997" rx="1.6" fill="#2962ff"/>
<path d="M967.5 101H1011.4A1.6 1.6 0 0 1 1013 102.6V111.7A1.6 1.6 0 0 1 1011.4 113.3H967.5Z" fill="#2962ff"/>
<text x="947.4" y="109.5" font-family="Liberation Sans, sans-serif" font-size="9.7" fill="#fff" stroke="#fff" stroke-width="0.22" textLength="16.4" lengthAdjust="spacingAndGlyphs">EMA</text>
<text x="973.7" y="109.5" font-family="Liberation Sans, sans-serif" font-size="9.7" fill="#fff" stroke="#fff" stroke-width="0.22" textLength="34.8" lengthAdjust="spacingAndGlyphs">6,601.56</text>
<rect x="946" y="113.3" width="22.5" height="12.700000000000003" rx="1.6" fill="#26a69a"/>
<path d="M967.5 113.3H1011.4A1.6 1.6 0 0 1 1013 114.89999999999999V145.70000000000002A1.6 1.6 0 0 1 1011.4 147.3H967.5Z" fill="#26a69a"/>
<text x="949.4" y="122.3" font-family="Liberation Sans, sans-serif" font-size="9.7" fill="#fff" stroke="#fff" stroke-width="0.22" textLength="14" lengthAdjust="spacingAndGlyphs">SPX</text>
<text x="973.7" y="121.8" font-family="Liberation Sans, sans-serif" font-size="9.7" fill="#fff" stroke="#fff" stroke-width="0.22" textLength="34.8" lengthAdjust="spacingAndGlyphs">6,592.99</text>
<text x="973.7" y="131.9" font-family="Liberation Sans, sans-serif" font-size="9.7" fill="#fff" stroke="#fff" stroke-width="0.22" textLength="32" lengthAdjust="spacingAndGlyphs">+16.99%</text>
<text x="973.7" y="143.4" font-family="Liberation Sans, sans-serif" font-size="9" fill="#fff" fill-opacity="0.75" textLength="34.8" lengthAdjust="spacingAndGlyphs">06:37:55</text>
<path d="M967.5 147.3H1011.4A1.6 1.6 0 0 1 1013 148.9V158.20000000000002A1.6 1.6 0 0 1 1011.4 159.8H967.5Z" fill="#0000ff"/>
<text x="973.7" y="156.2" font-family="Liberation Sans, sans-serif" font-size="9.7" fill="#fff" stroke="#fff" stroke-width="0.22" textLength="34.8" lengthAdjust="spacingAndGlyphs">6,550.00</text>
<path d="M967.5 198H1011.4A1.6 1.6 0 0 1 1013 199.6V208.70000000000002A1.6 1.6 0 0 1 1011.4 210.3H967.5Z" fill="#0000ff"/>
<text x="973.7" y="206.8" font-family="Liberation Sans, sans-serif" font-size="9.7" fill="#fff" stroke="#fff" stroke-width="0.22" textLength="34.8" lengthAdjust="spacingAndGlyphs">6,147.00</text>
<rect x="948" y="547.2" width="20.5" height="12.799999999999955" rx="1.6" fill="#7e57c2"/>
<path d="M967.5 547.2H998.1999999999999A1.6 1.6 0 0 1 999.8 548.8000000000001V558.4A1.6 1.6 0 0 1 998.1999999999999 560H967.5Z" fill="#7e57c2"/>
<text x="951.6" y="556.3" font-family="Liberation Sans, sans-serif" font-size="9.7" fill="#fff" stroke="#fff" stroke-width="0.22" textLength="11.8" lengthAdjust="spacingAndGlyphs">RSI</text>
<text x="973.7" y="556.3" font-family="Liberation Sans, sans-serif" font-size="9.7" fill="#fff" stroke="#fff" stroke-width="0.22" textLength="22.3" lengthAdjust="spacingAndGlyphs">46.89</text>
<rect x="907.5" y="570.7" width="61.0" height="12.799999999999955" rx="1.6" fill="#fdd835"/>
<path d="M967.5 570.7H998.1999999999999A1.6 1.6 0 0 1 999.8 572.3000000000001V581.9A1.6 1.6 0 0 1 998.1999999999999 583.5H967.5Z" fill="#fdd835"/>
<text x="911" y="579.8" font-family="Liberation Sans, sans-serif" font-size="9.7" fill="#131722" stroke="#131722" stroke-width="0.22" textLength="52.8" lengthAdjust="spacingAndGlyphs">RSI-based MA</text>
<text x="973.7" y="579.8" font-family="Liberation Sans, sans-serif" font-size="9.7" fill="#131722" stroke="#131722" stroke-width="0.22" textLength="22.3" lengthAdjust="spacingAndGlyphs">37.55</text>
<path d="M967.5 67V80 M967.5 101V126 M967.5 547.2V560 M967.5 570.7V583.5" stroke="#fff" stroke-opacity="0.45" stroke-width="1"/>
<text x="37.7" y="638.4" font-family="Liberation Sans, sans-serif" font-size="9.6" fill="#131722" stroke="#131722" stroke-width="0.15" textLength="14" lengthAdjust="spacingAndGlyphs">Apr</text>
<text x="106.8" y="638.4" font-family="Liberation Sans, sans-serif" font-size="9.6" fill="#131722" stroke="#131722" stroke-width="0.15" textLength="15.4" lengthAdjust="spacingAndGlyphs">May</text>
<text x="176.6" y="638.4" font-family="Liberation Sans, sans-serif" font-size="9.6" fill="#131722" stroke="#131722" stroke-width="0.15" textLength="14.2" lengthAdjust="spacingAndGlyphs">Jun</text>
<text x="245.3" y="638.4" font-family="Liberation Sans, sans-serif" font-size="9.6" fill="#131722" stroke="#131722" stroke-width="0.15" textLength="10.6" lengthAdjust="spacingAndGlyphs">Jul</text>
<text x="316.3" y="638.4" font-family="Liberation Sans, sans-serif" font-size="9.6" fill="#131722" stroke="#131722" stroke-width="0.15" textLength="14.6" lengthAdjust="spacingAndGlyphs">Aug</text>
<text x="386.1" y="638.4" font-family="Liberation Sans, sans-serif" font-size="9.6" fill="#131722" stroke="#131722" stroke-width="0.15" textLength="14.6" lengthAdjust="spacingAndGlyphs">Sep</text>
<text x="455.8" y="638.4" font-family="Liberation Sans, sans-serif" font-size="9.6" fill="#131722" stroke="#131722" stroke-width="0.15" textLength="14.6" lengthAdjust="spacingAndGlyphs">Oct</text>
<text x="531.9" y="638.4" font-family="Liberation Sans, sans-serif" font-size="9.6" fill="#131722" stroke="#131722" stroke-width="0.15" textLength="15.3" lengthAdjust="spacingAndGlyphs">Nov</text>
<text x="595.3" y="638.4" font-family="Liberation Sans, sans-serif" font-size="9.6" fill="#131722" stroke="#131722" stroke-width="0.15" textLength="14.6" lengthAdjust="spacingAndGlyphs">Dec</text>
<text x="665.3" y="638.4" font-family="Liberation Sans, sans-serif" font-size="9.6" fill="#131722" stroke="#131722" stroke-width="0.15" textLength="20.6" lengthAdjust="spacingAndGlyphs" font-weight="bold">2026</text>
<text x="734.9" y="638.4" font-family="Liberation Sans, sans-serif" font-size="9.6" fill="#131722" stroke="#131722" stroke-width="0.15" textLength="14.3" lengthAdjust="spacingAndGlyphs">Feb</text>
<text x="798.0" y="638.4" font-family="Liberation Sans, sans-serif" font-size="9.6" fill="#131722" stroke="#131722" stroke-width="0.15" textLength="14.3" lengthAdjust="spacingAndGlyphs">Mar</text>
<text x="871.2" y="638.4" font-family="Liberation Sans, sans-serif" font-size="9.6" fill="#131722" stroke="#131722" stroke-width="0.15" textLength="14" lengthAdjust="spacingAndGlyphs">Apr</text>
<text x="940.7" y="638.4" font-family="Liberation Sans, sans-serif" font-size="9.6" fill="#131722" stroke="#131722" stroke-width="0.15" textLength="15.4" lengthAdjust="spacingAndGlyphs">May</text>
<text x="13.5" y="34.5" font-family="Liberation Sans, sans-serif" font-size="9.6" fill="#131722" stroke="#131722" stroke-width="0.12" textLength="16.5" lengthAdjust="spacingAndGlyphs">S&amp;P</text>
<text x="32.3" y="34.5" font-family="Liberation Sans, sans-serif" font-size="9.6" fill="#131722" stroke="#131722" stroke-width="0.12" textLength="13.3" lengthAdjust="spacingAndGlyphs">500</text>
<text x="49" y="34.5" font-family="Liberation Sans, sans-serif" font-size="9.6" fill="#131722" stroke="#131722" stroke-width="0.12" textLength="21.6" lengthAdjust="spacingAndGlyphs">Index</text>
<text x="73.9" y="34.5" font-family="Liberation Sans, sans-serif" font-size="9.6" fill="#131722" stroke="#131722" stroke-width="0.12" textLength="1.7" lengthAdjust="spacingAndGlyphs">·</text>
<text x="80" y="34.5" font-family="Liberation Sans, sans-serif" font-size="9.6" fill="#131722" stroke="#131722" stroke-width="0.12" textLength="9.8" lengthAdjust="spacingAndGlyphs">1D</text>
<text x="93.6" y="34.5" font-family="Liberation Sans, sans-serif" font-size="9.6" fill="#131722" stroke="#131722" stroke-width="0.12" textLength="1.7" lengthAdjust="spacingAndGlyphs">·</text>
<text x="99.4" y="34.5" font-family="Liberation Sans, sans-serif" font-size="9.6" fill="#131722" stroke="#131722" stroke-width="0.12" textLength="14.6" lengthAdjust="spacingAndGlyphs">TVC</text>
<text x="120" y="34.5" font-family="Liberation Sans, sans-serif" font-size="9.6" fill="#131722" stroke="#131722" stroke-width="0.12" textLength="5.6" lengthAdjust="spacingAndGlyphs">O</text>
<text x="125.6" y="34.5" font-family="Liberation Sans, sans-serif" font-size="9.6" fill="#26a69a" stroke="#26a69a" stroke-width="0.12" textLength="35.4" lengthAdjust="spacingAndGlyphs">6,587.66</text>
<text x="167" y="34.5" font-family="Liberation Sans, sans-serif" font-size="9.6" fill="#131722" stroke="#131722" stroke-width="0.12" textLength="5.4" lengthAdjust="spacingAndGlyphs">H</text>
<text x="172.6" y="34.5" font-family="Liberation Sans, sans-serif" font-size="9.6" fill="#26a69a" stroke="#26a69a" stroke-width="0.12" textLength="34.6" lengthAdjust="spacingAndGlyphs">6,594.75</text>
<text x="213" y="34.5" font-family="Liberation Sans, sans-serif" font-size="9.6" fill="#131722" stroke="#131722" stroke-width="0.12" textLength="4.2" lengthAdjust="spacingAndGlyphs">L</text>
<text x="217.6" y="34.5" font-family="Liberation Sans, sans-serif" font-size="9.6" fill="#26a69a" stroke="#26a69a" stroke-width="0.12" textLength="34.6" lengthAdjust="spacingAndGlyphs">6,584.95</text>
<text x="258" y="34.5" font-family="Liberation Sans, sans-serif" font-size="9.6" fill="#131722" stroke="#131722" stroke-width="0.12" textLength="5.2" lengthAdjust="spacingAndGlyphs">C</text>
<text x="263.8" y="34.5" font-family="Liberation Sans, sans-serif" font-size="9.6" fill="#26a69a" stroke="#26a69a" stroke-width="0.12" textLength="34.4" lengthAdjust="spacingAndGlyphs">6,592.99</text>
<text x="304.5" y="34.5" font-family="Liberation Sans, sans-serif" font-size="9.6" fill="#26a69a" stroke="#26a69a" stroke-width="0.12" textLength="62.5" lengthAdjust="spacingAndGlyphs">+10.30 (+0.16%)</text>
<text x="13.5" y="47.4" font-family="Liberation Sans, sans-serif" font-size="9.6" fill="#131722" stroke="#131722" stroke-width="0.12" textLength="16.5" lengthAdjust="spacingAndGlyphs">EMA</text>
<text x="33.5" y="47.4" font-family="Liberation Sans, sans-serif" font-size="9.6" fill="#131722" stroke="#131722" stroke-width="0.12" textLength="14.6" lengthAdjust="spacingAndGlyphs">(20,</text>
<text x="51.9" y="47.4" font-family="Liberation Sans, sans-serif" font-size="9.6" fill="#131722" stroke="#131722" stroke-width="0.12" textLength="23.1" lengthAdjust="spacingAndGlyphs">close)</text>
<text x="80.6" y="47.4" font-family="Liberation Sans, sans-serif" font-size="9.6" fill="#2962ff" stroke="#2962ff" stroke-width="0.12" textLength="35.2" lengthAdjust="spacingAndGlyphs">6,601.56</text>
<text x="13.5" y="60.1" font-family="Liberation Sans, sans-serif" font-size="9.6" fill="#131722" stroke="#131722" stroke-width="0.12" textLength="16.3" lengthAdjust="spacingAndGlyphs">SMA</text>
<text x="33.1" y="60.1" font-family="Liberation Sans, sans-serif" font-size="9.6" fill="#131722" stroke="#131722" stroke-width="0.12" textLength="15" lengthAdjust="spacingAndGlyphs">(50,</text>
<text x="51.5" y="60.1" font-family="Liberation Sans, sans-serif" font-size="9.6" fill="#131722" stroke="#131722" stroke-width="0.12" textLength="23.2" lengthAdjust="spacingAndGlyphs">close)</text>
<text x="80.3" y="60.1" font-family="Liberation Sans, sans-serif" font-size="9.6" fill="#f23645" stroke="#f23645" stroke-width="0.12" textLength="34.6" lengthAdjust="spacingAndGlyphs">6,777.22</text>
<text x="13.6" y="487.7" font-family="Liberation Sans, sans-serif" font-size="9.6" fill="#131722" stroke="#131722" stroke-width="0.12" textLength="57.5" lengthAdjust="spacingAndGlyphs">RSI (14, close)</text>
<text x="76.6" y="487.7" font-family="Liberation Sans, sans-serif" font-size="9.6" fill="#7e57c2" stroke="#7e57c2" stroke-width="0.12" textLength="22" lengthAdjust="spacingAndGlyphs">46.89</text>
<text x="104.5" y="487.7" font-family="Liberation Sans, sans-serif" font-size="9.6" fill="#fdd835" stroke="#fdd835" stroke-width="0.12" textLength="22" lengthAdjust="spacingAndGlyphs">37.55</text>
<g transform="translate(885.2 463.4)"><path d="M7.1 -2.2A7.4 7.4 0 1 1 2.6 -6.95" fill="none" stroke="#9c27b0" stroke-width="1.2" stroke-linecap="round"/><path d="M2 -3.4L-2.6 0.5H0.6L-2 4L2.4 0.1H-0.6Z" fill="#9c27b0" stroke="#9c27b0" stroke-width="0.5" stroke-linejoin="round"/><circle cx="5.3" cy="-5.1" r="3.1" fill="#fff"/><circle cx="5.3" cy="-5.1" r="2.05" fill="#f23645"/></g>
<g transform="translate(9 660.2) scale(0.622 0.6)" fill="#15171c"><path d="M14 22H7V11H0V4h14v18zM28 22h-8l7.5-18h8L28 22z"/><circle cx="20" cy="8" r="4"/></g>
<text x="37.4" y="673.3" font-family="Liberation Sans, sans-serif" font-size="14.6" fill="#15171c" stroke="#15171c" stroke-width="0.8" stroke-linejoin="round" textLength="89.8" lengthAdjust="spacingAndGlyphs">TradingView</text>
</svg></body></html>
